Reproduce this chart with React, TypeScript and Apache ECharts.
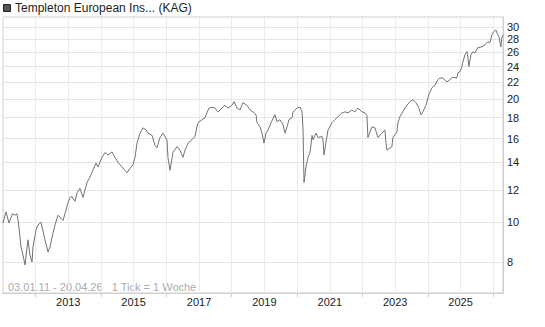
import React, { useEffect, useRef } from "react";
import * as echarts from "echarts";

const dates: string[] = [
  "2011-01-03","2011-02-05","2011-03-11","2011-04-19","2011-05-17","2011-06-08","2011-06-25","2011-07-23","2011-08-14","2011-09-06",
  "2011-10-09","2011-10-31","2011-11-23","2011-12-04","2012-01-07","2012-01-29","2012-03-03","2012-03-14","2012-04-16","2012-05-20",
  "2012-06-11","2012-07-15","2012-08-06","2012-09-08","2012-10-01","2012-11-03","2012-11-26","2012-12-29","2013-01-21","2013-02-12",
  "2013-03-17","2013-04-09","2013-05-12","2013-06-15","2013-07-29","2013-09-01","2013-10-04","2013-11-07","2013-11-29","2014-01-13",
  "2014-02-16","2014-03-21","2014-05-05","2014-06-07","2014-07-11","2014-08-24","2014-09-27","2014-10-19","2014-11-22","2014-12-25",
  "2015-01-17","2015-02-08","2015-03-14","2015-04-16","2015-05-20","2015-06-11","2015-07-26","2015-08-28","2015-09-19","2015-10-23",
  "2015-11-26","2016-01-09","2016-01-20","2016-02-12","2016-03-16","2016-04-30","2016-06-02","2016-07-06","2016-07-28","2016-08-31",
  "2016-10-15","2016-11-17","2016-12-09","2016-12-21","2017-02-03","2017-03-09","2017-03-31","2017-04-22","2017-05-26","2017-06-29",
  "2017-08-01","2017-09-15","2017-10-18","2017-11-21","2018-01-04","2018-01-27","2018-03-01","2018-04-04","2018-05-07","2018-06-21",
  "2018-07-25","2018-08-27","2018-09-30","2018-10-11","2018-11-13","2018-12-06","2018-12-28","2019-01-19","2019-02-11","2019-03-16",
  "2019-04-30","2019-05-22","2019-06-25","2019-07-28","2019-08-20","2019-09-11","2019-10-03","2019-11-06","2019-11-17","2020-01-01",
  "2020-02-03","2020-02-26","2020-03-08","2020-03-19","2020-04-10","2020-05-03","2020-05-25","2020-06-17","2020-06-28","2020-07-31",
  "2020-08-22","2020-10-06","2020-10-17","2020-10-28","2020-11-20","2020-12-12","2021-01-25","2021-02-27","2021-04-02","2021-05-17",
  "2021-06-19","2021-07-23","2021-09-06","2021-10-09","2021-11-12","2021-12-26","2022-01-29","2022-02-20","2022-03-03","2022-04-17",
  "2022-05-20","2022-06-23","2022-08-06","2022-09-09","2022-09-20","2022-10-01","2022-11-26","2022-12-07","2023-01-21","2023-02-01",
  "2023-02-23","2023-04-20","2023-06-15","2023-07-18","2023-08-21","2023-09-23","2023-10-16","2023-11-07","2023-12-11","2024-01-13",
  "2024-02-16","2024-03-20","2024-04-23","2024-05-15","2024-06-18","2024-08-01","2024-09-04","2024-10-07","2024-11-21","2024-12-02",
  "2024-12-25","2025-01-16","2025-01-27","2025-02-18","2025-03-13","2025-03-24","2025-04-04","2025-04-26","2025-05-19","2025-06-10",
  "2025-07-13","2025-08-27","2025-09-30","2025-11-02","2025-11-24","2025-12-17","2025-12-28","2026-01-30","2026-02-10","2026-03-05",
  "2026-03-27","2026-04-07","2026-04-20"
];

const prices: number[] = [
  9.96,10.6,9.96,10.5,10.4,10.5,9.96,8.7,8.32,7.87,
  9.06,8.32,8.0,8.7,9.58,9.85,10.0,9.74,9.06,8.46,
  8.7,9.42,9.85,10.4,10.3,10.1,10.5,11.15,11.5,11.55,
  11.25,11.8,12.1,11.5,12.5,12.9,13.4,13.95,13.65,14.4,
  14.8,14.6,14.85,14.4,14.0,13.65,13.4,13.2,13.55,13.8,
  14.4,15.6,16.5,17.0,16.8,16.5,16.3,15.4,15.2,16.1,
  16.5,15.9,14.4,13.4,14.8,15.3,15.0,14.4,15.0,15.6,
  15.9,16.2,17.1,17.5,17.8,18.0,18.5,19.0,19.1,19.0,
  18.6,19.0,19.3,19.0,19.3,19.7,19.0,18.8,19.6,19.3,
  18.8,18.6,18.3,17.5,17.1,16.5,15.6,16.5,16.8,17.5,
  18.3,17.6,17.8,17.3,16.5,17.1,17.8,18.0,18.6,19.0,
  19.1,18.6,16.8,12.5,13.65,14.4,14.8,16.3,15.9,16.5,
  16.1,16.2,15.9,14.6,15.7,16.8,17.5,17.8,18.1,18.5,
  18.6,18.5,18.8,18.6,19.0,18.6,18.5,18.2,16.1,17.1,
  17.0,16.1,16.5,16.8,15.7,15.0,15.3,16.1,16.6,17.5,
  18.1,19.0,19.7,19.9,19.6,19.0,18.3,18.6,19.3,20.5,
  21.3,21.6,22.3,22.5,22.5,22.0,22.3,22.6,22.5,23.2,
  23.3,24.0,24.6,25.6,26.1,25.2,24.0,25.6,26.1,25.9,
  26.7,26.8,27.1,27.6,27.4,28.7,29.0,29.5,29.0,28.4,
  26.8,28.2,28.7
];

const yTickValues: number[] = [8, 10, 12, 14, 16, 18, 20, 22, 24, 26, 28, 30];
const labelYears: number[] = [2013, 2015, 2017, 2019, 2021, 2023, 2025];
const tickYears: number[] = [2012, 2014, 2016, 2018, 2020, 2022, 2024, 2026];
const gridYears: number[] = [2012, 2013, 2014, 2015, 2016, 2017, 2018, 2019, 2020, 2021, 2022, 2023, 2024, 2025, 2026];

const titleText = "Templeton European Ins... (KAG)";
const footerText = "03.01.11 - 20.04.26   1 Tick = 1 Woche";

const FONT = "'Liberation Sans', Arial, sans-serif";

export default function App() {
  const ref = useRef<HTMLDivElement>(null);
  useEffect(() => {
    if (!ref.current) return;
    const chart = echarts.init(ref.current, undefined, { renderer: "svg" });
    const yearTs = (y: number) => new Date(y, 0, 1).getTime();
    const xMin = new Date(2011, 0, 3).getTime();
    const xMax = new Date(2026, 3, 20).getTime();
    const data = dates.map((d, i) => {
      const [yy, mm, dd] = d.split("-").map(Number);
      return [new Date(yy, mm - 1, dd).getTime(), prices[i]];
    });
    chart.setOption({
      animation: false,
      textStyle: { fontFamily: FONT },
      grid: {
        left: 3, right: 42, top: 17, bottom: 34,
        show: true, borderColor: "#cfcfcf", borderWidth: 1, backgroundColor: "transparent",
      },
      xAxis: [
        {
          type: "value", min: xMin, max: xMax, position: "bottom",
          axisLine: { show: true, lineStyle: { color: "#cfcfcf", width: 1 } },
          axisTick: { show: true, customValues: tickYears.map(yearTs), length: 4, lineStyle: { color: "#cfcfcf" } },
          axisLabel: {
            customValues: labelYears.map(yearTs),
            formatter: (v: number) => String(new Date(v).getFullYear()),
            color: "#222", fontSize: 11, fontFamily: FONT, margin: 3,
          },
          splitLine: { show: false },
        },
        {
          type: "value", min: xMin, max: xMax, position: "bottom",
          axisLine: { show: false },
          axisTick: { show: false, customValues: gridYears.map(yearTs) },
          axisLabel: { show: false },
          splitLine: { show: true, lineStyle: { color: "#ebebeb", width: 1 } },
        },
      ],
      yAxis: {
        type: "log", logBase: 10, min: 6.72, max: 31.7, position: "right",
        axisLine: { show: true, lineStyle: { color: "#cfcfcf" } },
        axisTick: { show: false, customValues: yTickValues },
        axisLabel: {
          customValues: yTickValues, formatter: (v: number) => String(Math.round(v)),
          color: "#222", fontSize: 11, fontFamily: FONT, margin: 4,
        },
        splitLine: { show: true, lineStyle: { color: "#e4e4e4", width: 1 } },
      },
      graphic: [
        { type: "rect", shape: { x: 3.5, y: 4.5, width: 7, height: 7 }, style: { fill: "#555", stroke: "#222", lineWidth: 1 } },
        { type: "text", x: 15, y: 8, style: { text: titleText, font: `12px ${FONT}`, fill: "#222", verticalAlign: "middle" } },
        { type: "text", x: 8, y: 287, style: { text: footerText, font: `11px ${FONT}`, fill: "#a8aab4", verticalAlign: "middle" } },
      ],
      series: [
        {
          type: "line", xAxisIndex: 0, data, showSymbol: false, symbol: "none",
          lineStyle: { color: "#727272", width: 1 }, silent: true,
        },
      ],
    });
    return () => chart.dispose();
  }, []);
  return <div ref={ref} style={{ position: "absolute", left: 0, top: 0, width: 545, height: 327 }} />;
}
